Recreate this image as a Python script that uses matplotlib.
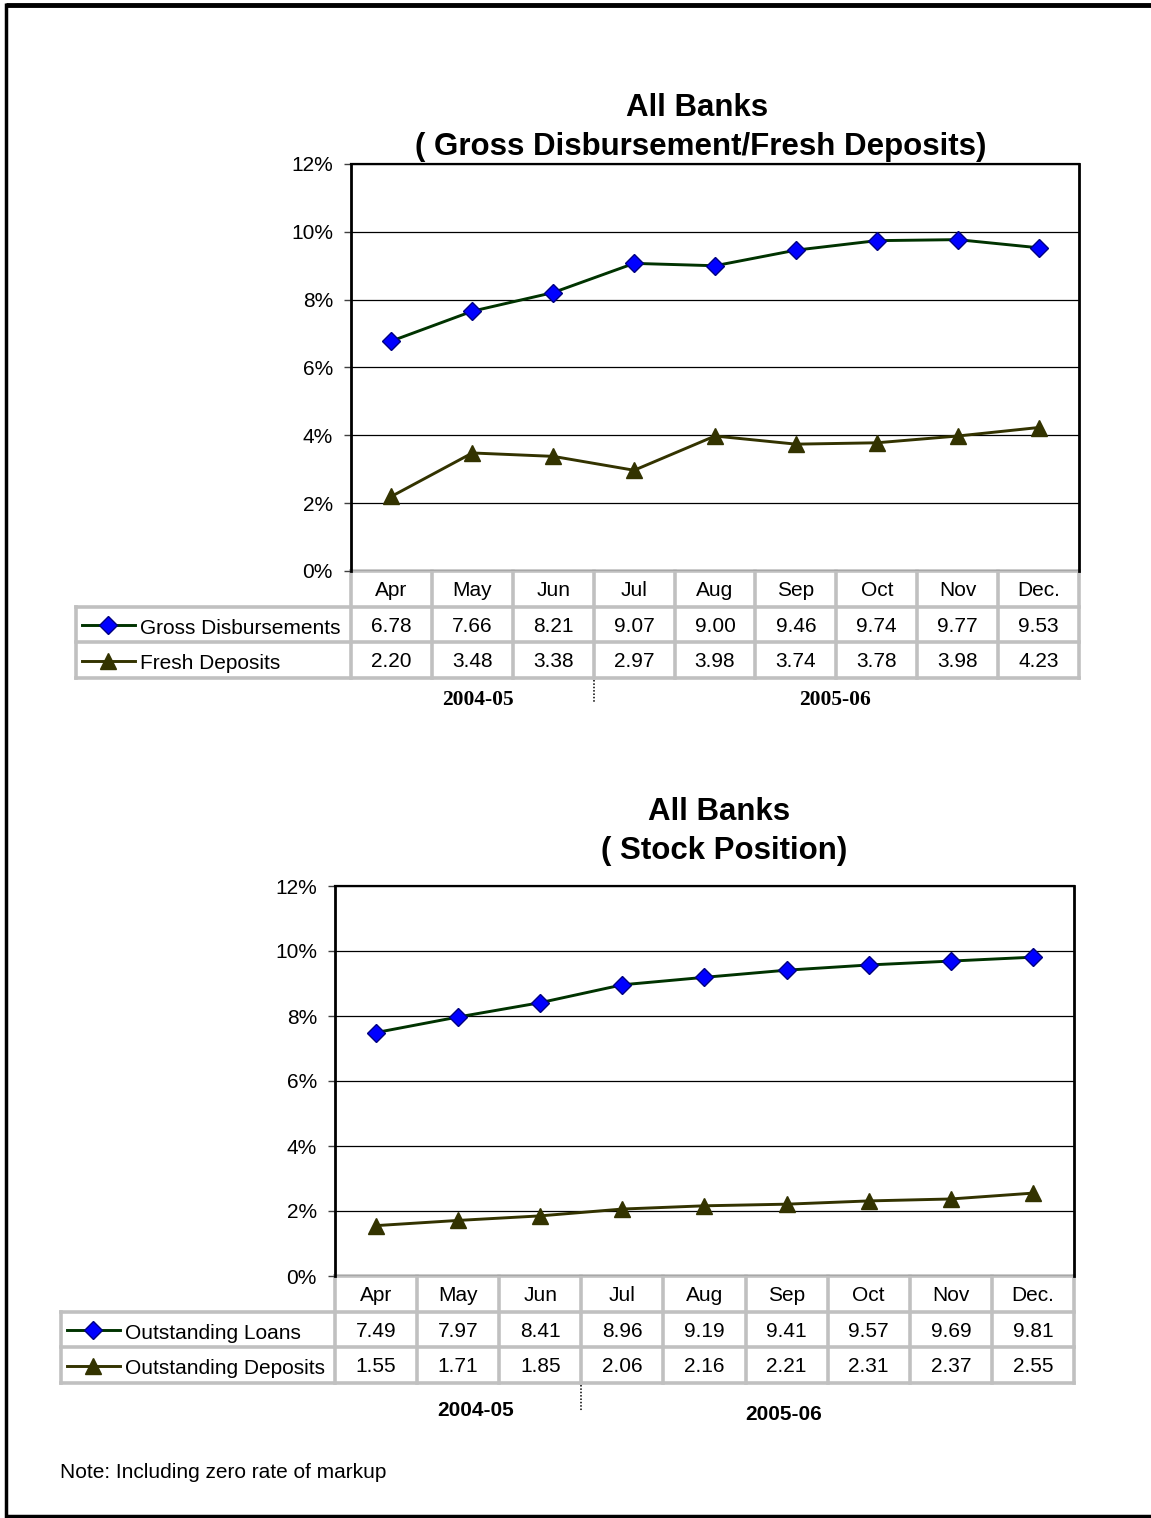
import numpy as np
import matplotlib.pyplot as plt

plt.rcParams['font.family'] = ['Liberation Sans', 'DejaVu Sans']

W, H = 1151, 1518
months = ['Apr', 'May', 'Jun', 'Jul', 'Aug', 'Sep', 'Oct', 'Nov', 'Dec.']
gross = [6.78, 7.66, 8.21, 9.07, 9.00, 9.46, 9.74, 9.77, 9.53]
fresh = [2.20, 3.48, 3.38, 2.97, 3.98, 3.74, 3.78, 3.98, 4.23]
loans = [7.49, 7.97, 8.41, 8.96, 9.19, 9.41, 9.57, 9.69, 9.81]
deposits = [1.55, 1.71, 1.85, 2.06, 2.16, 2.21, 2.31, 2.37, 2.55]
yticks = [0, 2, 4, 6, 8, 10, 12]
years = ['2004-05', '2005-06']

GRID = '#c0c0c0'
FS = 15
styles = [dict(color='#003300', marker='D', mfc='#0000ff', mec='#000080', ms=9),
          dict(color='#333300', marker='^', mfc='#333300', mec='#333300', ms=11)]

fig = plt.figure(figsize=(W / 100, H / 100), dpi=100)
bg = fig.add_axes([0, 0, 1, 1])
bg.set_xlim(0, W)
bg.set_ylim(H, 0)
bg.axis('off')

# page border
bg.plot([6, W], [5, 5], color='black', lw=3.5, solid_capstyle='butt')
bg.plot([6.5, 6.5], [3, H], color='black', lw=2.5, solid_capstyle='butt')
bg.plot([6, W], [H - 2, H - 2], color='black', lw=2.5, solid_capstyle='butt')


def panel(t, b, l, r, legl, titles, title_pos, names, data, year_pos, year_font, year_fs, div_len):
    ax = fig.add_axes([l / W, 1 - b / H, (r - l) / W, (b - t) / H])
    ax.set_facecolor('none')
    x = np.arange(len(months))
    for vals, st in zip(data, styles):
        ax.plot(x, vals, lw=2.1, mew=1, clip_on=False, zorder=5, **st)
    ax.set_xlim(-0.5, len(months) - 0.5)
    ax.set_ylim(0, 12)
    ax.set_yticks(yticks)
    ax.set_yticklabels(['%d%%' % v for v in yticks], fontsize=FS)
    ax.set_xticks([])
    ax.tick_params(axis='y', length=5, width=1, color='#404040', pad=8)
    ax.yaxis.grid(True, color='black', lw=0.9)
    ax.set_axisbelow(True)
    ax.spines['bottom'].set_visible(False)
    ax.spines['left'].set_linewidth(2)
    ax.spines['top'].set_linewidth(1.6)
    ax.spines['right'].set_linewidth(2)

    # titles
    for txt, (tx, ty) in zip(titles, title_pos):
        bg.text(tx, ty, txt, ha='center', va='center', fontsize=22.5, fontweight='bold')

    # data table
    cw = (r - l) / len(months)
    rh = 35.5
    rows = [b, b + rh, b + 2 * rh, b + 3 * rh]
    kw = dict(color=GRID, lw=2.6, solid_capstyle='projecting', zorder=1)
    bg.plot([l, r], [rows[0], rows[0]], **kw)
    for yy in rows[1:]:
        bg.plot([legl, r], [yy, yy], **kw)
    for i in range(len(months) + 1):
        bg.plot([l + i * cw, l + i * cw], [rows[0], rows[3]], **kw)
    bg.plot([legl, legl], [rows[1], rows[3]], **kw)
    for i, m in enumerate(months):
        cxx = l + (i + 0.5) * cw
        bg.text(cxx, rows[0] + rh / 2 + 7, m, ha='center', va='baseline', fontsize=FS)
        for j, vals in enumerate(data):
            bg.text(cxx, rows[j + 1] + rh / 2 + 7.5, '%.2f' % vals[i], ha='center', va='baseline', fontsize=FS)
    for j, (nm, st) in enumerate(zip(names, styles)):
        yy = rows[j + 1] + rh / 2 + 1
        bg.plot([legl + 6, legl + 59], [yy, yy], lw=2.1, color=st['color'])
        bg.plot([legl + 32], [yy], ls='none', marker=st['marker'], mfc=st['mfc'], mec=st['mec'], ms=st['ms'])
        bg.text(legl + 64, yy + 8.5, nm, ha='left', va='baseline', fontsize=FS)

    # year split
    dx = l + 3 * cw
    bg.plot([dx, dx], [rows[3] + 2, rows[3] + div_len], color='black', lw=1.1, ls=(0, (1, 1.2)))
    for yr, (yx, yy) in zip(years, year_pos):
        bg.text(yx, yy, yr, ha='center', va='center', fontsize=year_fs, fontweight='bold', family=year_font)
    return ax


panel(164, 571, 351, 1079, 76,
      ['All Banks', '( Gross Disbursement/Fresh Deposits)'], [(697, 108), (701, 147)],
      ['Gross Disbursements', 'Fresh Deposits'], [gross, fresh],
      [(478, 700), (835, 700)], ['Liberation Serif'], 15.5, 24)

panel(886, 1276, 335, 1074, 61,
      ['All Banks', '( Stock Position)'], [(719, 812), (724, 851)],
      ['Outstanding Loans', 'Outstanding Deposits'], [loans, deposits],
      [(476, 1410), (784, 1415)], ['Liberation Sans'], 15, 28)

bg.text(60, 1472, 'Note: Including zero rate of markup', ha='left', va='center', fontsize=FS)

fig.savefig('out.png', dpi=100)
